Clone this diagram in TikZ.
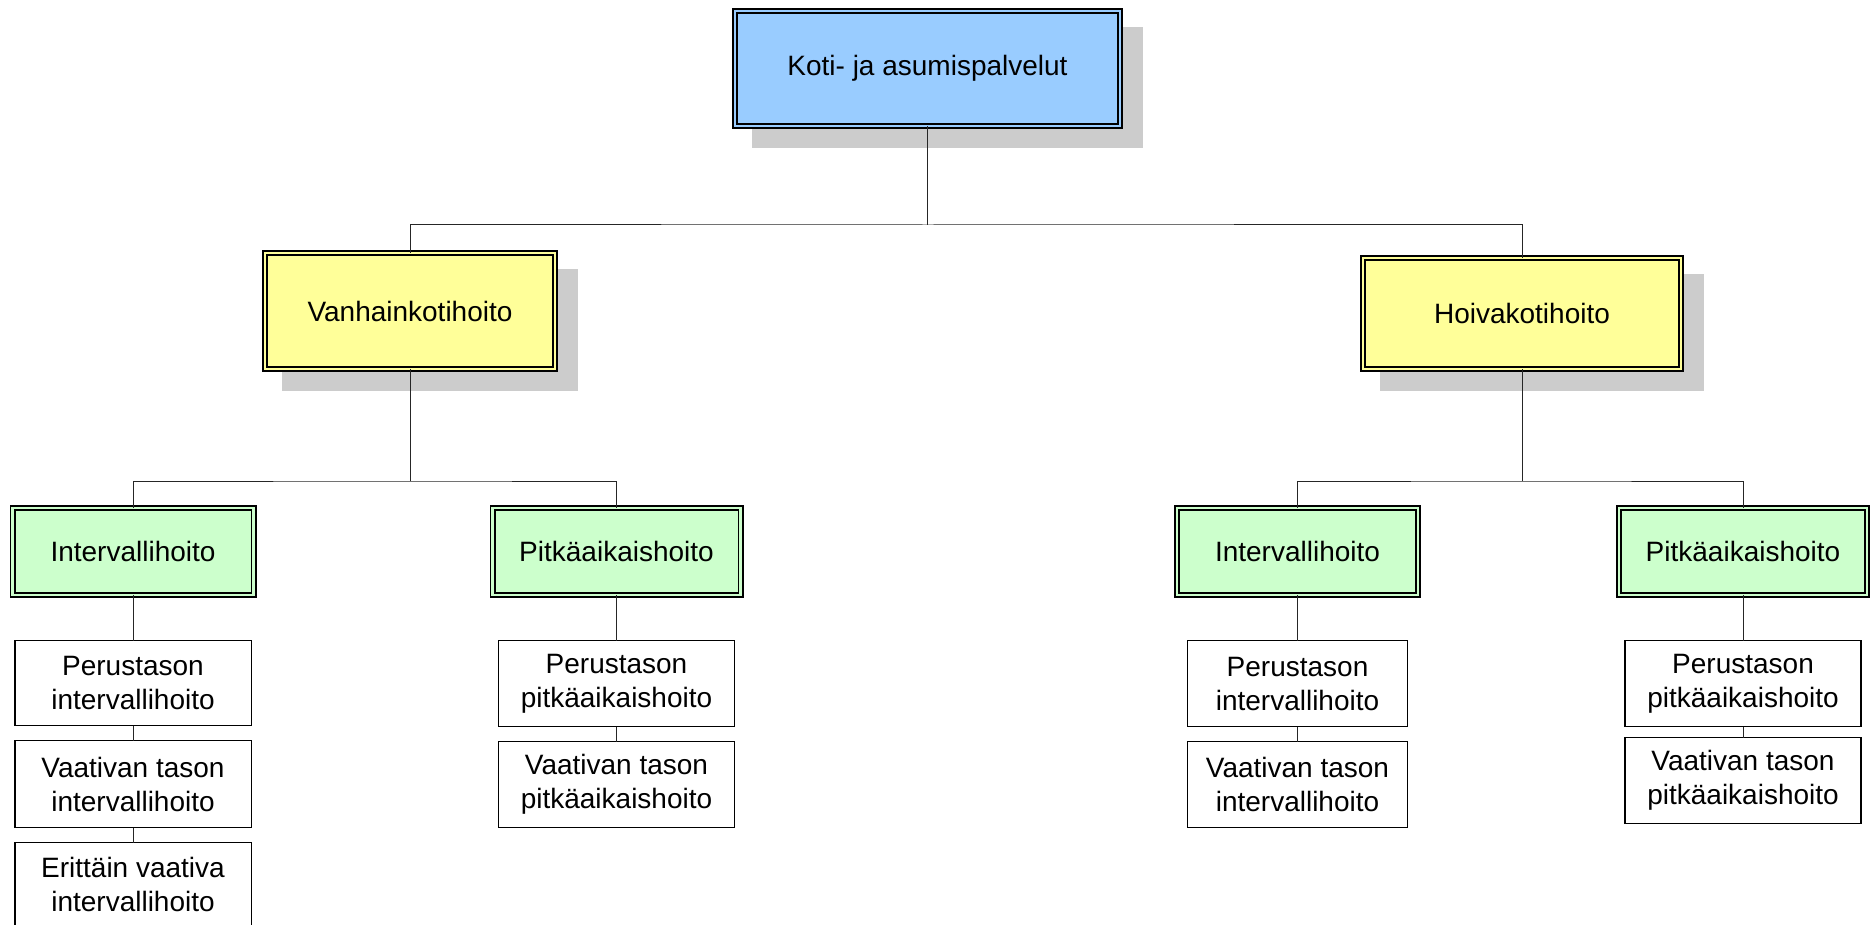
\documentclass[tikz,border=0pt]{standalone}
\usepackage{fontspec}
\setmainfont{Liberation Sans}
\usetikzlibrary{backgrounds,calc}
\definecolor{topblue}{HTML}{99CCFF}
\definecolor{ylw}{HTML}{FFFF99}
\definecolor{grn}{HTML}{CCFFCC}
\definecolor{shd}{HTML}{CCCCCC}
\tikzset{
  txt/.style={align=center, font=\fontsize{28}{34}\selectfont, inner sep=0pt, outer sep=0pt},
  dbox/.style={txt, draw=black, line width=1.6pt, double distance=2.8pt},
  topbox/.style={dbox, double=topblue, fill=topblue},
  ybox/.style={dbox, double=ylw, fill=ylw},
  gbox/.style={dbox, double=grn, fill=grn},
  wbox/.style={txt, draw=black, line width=1.5pt, fill=white},
  conn/.style={draw=black!85, line width=1pt},
  shadowfill/.style={fill=shd}
}
\begin{document}
\begin{tikzpicture}[x=1pt,y=-1pt]
\useasboundingbox (0,0) rectangle (1874,925);
% level 1
\node[topbox, minimum width=385pt, minimum height=115pt] (top) at (927.5,68.5) {Koti- ja asumispalvelut};
% level 2
\node[ybox, minimum width=290pt, minimum height=116pt] (yl) at (410,311) {Vanhainkotihoito};
\node[ybox, minimum width=318pt, minimum height=111pt] (yr) at (1522,313.5) {Hoivakotihoito};
% level 3
\node[gbox, minimum width=241pt, minimum height=87pt] (g1) at (133,551.5) {Intervallihoito};
\node[gbox, minimum width=248pt, minimum height=87pt] (g2) at (616.5,551.5) {Pitkäaikaishoito};
\node[gbox, minimum width=241pt, minimum height=87pt] (g3) at (1297.5,551.5) {Intervallihoito};
\node[gbox, minimum width=248pt, minimum height=87pt] (g4) at (1743,551.5) {Pitkäaikaishoito};
% level 4
\node[wbox, minimum width=236.5pt, minimum height=85pt] (w11) at (133,683) {Perustason\\intervallihoito};
\node[wbox, minimum width=236.5pt, minimum height=87pt] (w12) at (133,784) {Vaativan tason\\intervallihoito};
\node[wbox, minimum width=236.5pt, minimum height=83pt] (w13) at (133,884) {Erittäin vaativa\\intervallihoito};
\node[wbox, minimum width=236pt, minimum height=86pt] (w21) at (616.5,683.5) {Perustason\\pitkäaikaishoito};
\node[wbox, minimum width=236pt, minimum height=86pt] (w22) at (616.5,784.5) {Vaativan tason\\pitkäaikaishoito};
\node[wbox, minimum width=220pt, minimum height=86pt] (w31) at (1297.5,683.5) {Perustason\\intervallihoito};
\node[wbox, minimum width=220pt, minimum height=86pt] (w32) at (1297.5,784.5) {Vaativan tason\\intervallihoito};
\node[wbox, minimum width=236pt, minimum height=86pt] (w41) at (1743,683.5) {Perustason\\pitkäaikaishoito};
\node[wbox, minimum width=236pt, minimum height=86pt] (w42) at (1743,780.5) {Vaativan tason\\pitkäaikaishoito};
% shadows
\begin{scope}[on background layer]
  \fill[shadowfill] ($(top.north west)+(17,16)$) rectangle ($(top.south east)+(23,22)$);
  \fill[shadowfill] ($(yl.north west)+(17,16)$) rectangle ($(yl.south east)+(23,22)$);
  \fill[shadowfill] ($(yr.north west)+(17,16)$) rectangle ($(yr.south east)+(23,22)$);
\end{scope}
% connectors
\coordinate (hub1) at (927.5,225);
\coordinate (hub2) at (410,481);
\coordinate (hub3) at (1522,481);
\draw[conn] (top.south) -- (hub1);
\draw[conn] (yl.north) |- (hub1) -| (yr.north);
\draw[conn] (yl.south) -- (hub2);
\draw[conn] (g1.north) |- (hub2) -| (g2.north);
\draw[conn] (yr.south) -- (hub3);
\draw[conn] (g3.north) |- (hub3) -| (g4.north);
\draw[conn] (g1.south) -- (w11.north);
\draw[conn] (w11.south) -- (w12.north);
\draw[conn] (w12.south) -- (w13.north);
\draw[conn] (g2.south) -- (w21.north);
\draw[conn] (w21.south) -- (w22.north);
\draw[conn] (g3.south) -- (w31.north);
\draw[conn] (w31.south) -- (w32.north);
\draw[conn] (g4.south) -- (w41.north);
\draw[conn] (w41.south) -- (w42.north);
\end{tikzpicture}
\end{document}
